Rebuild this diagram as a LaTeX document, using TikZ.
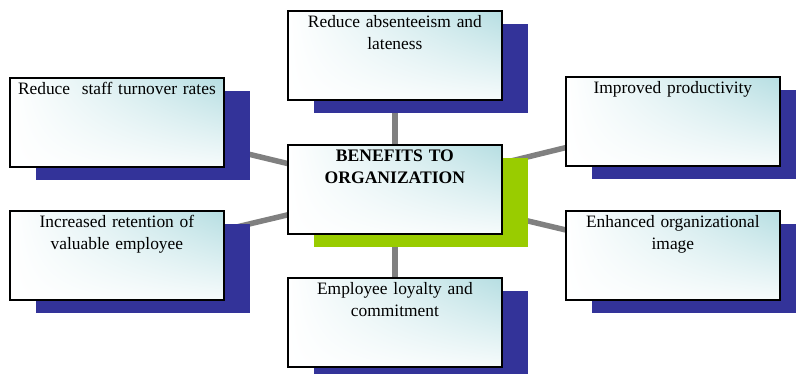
\documentclass[tikz,border=0pt]{standalone}
\usepackage{fontspec}
\setmainfont{Liberation Serif}
\usetikzlibrary{shadows,backgrounds,shadings}
\definecolor{shblue}{RGB}{51,51,153}
\definecolor{shgreen}{RGB}{153,204,0}
\definecolor{teal0}{RGB}{182,222,226}
\definecolor{conn}{RGB}{128,128,128}
\tikzset{
  benefit/.style={draw=black, line width=1.8pt, anchor=north west,
    shade, upper right=teal0, upper left=white, lower left=white, lower right=white!88!teal0,
    text width=200pt, inner xsep=7pt, inner ysep=4pt, align=center,
    text height=13pt, text depth=68pt,
    font=\fontsize{17.4}{22}\selectfont},
  blueshadow/.style={drop shadow={shadow xshift=26pt, shadow yshift=-13pt, fill=shblue, opacity=1}},
  greenshadow/.style={drop shadow={shadow xshift=26pt, shadow yshift=-13pt, fill=shgreen, opacity=1}},
  connector/.style={draw=conn, line width=5.5pt}
}
\begin{document}
\begin{tikzpicture}[x=1pt,y=-1pt]
\useasboundingbox (0,0) rectangle (796,374);
\clip (0,0) rectangle (796,374);
\node[benefit, blueshadow] (tl) at (9,77) {Reduce\ \ staff turnover rates};
\node[benefit, blueshadow] (t) at (287,10) {Reduce absenteeism and\\lateness};
\node[benefit, blueshadow] (tr) at (565,76) {Improved productivity};
\node[benefit, blueshadow] (bl) at (9,210) {Increased retention of\\valuable employee};
\node[benefit, blueshadow] (br) at (565,210) {Enhanced organizational\\image};
\node[benefit, blueshadow] (b) at (287,277) {Employee loyalty and\\commitment};
\node[benefit, greenshadow, font=\fontsize{17.6}{22}\selectfont\bfseries] (c) at (287,144) {BENEFITS TO\\ORGANIZATION};
\begin{scope}[on background layer]
\foreach \n in {tl,t,tr,bl,br,b} \draw[connector] (\n.center) -- (c.center);
\end{scope}
\end{tikzpicture}
\end{document}
